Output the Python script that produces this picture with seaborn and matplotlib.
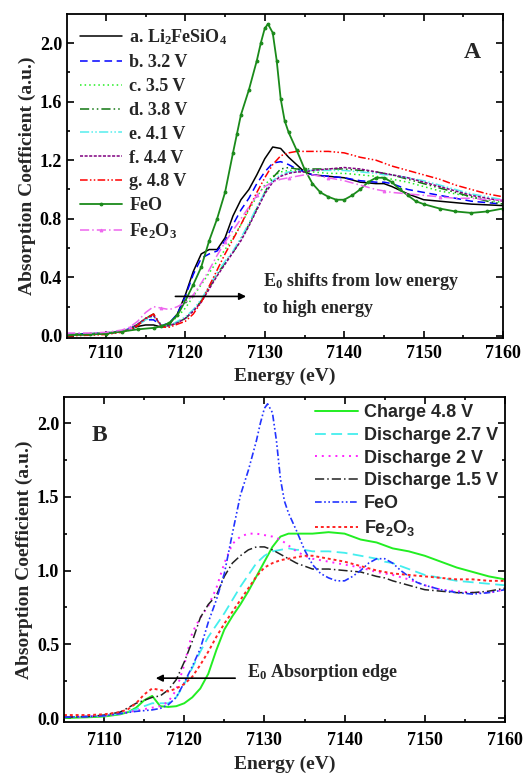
#!/usr/bin/env python3
# Fe K-edge XANES of Li2FeSiO4 at different states of charge (two panels)

import matplotlib
matplotlib.use("Agg")
import matplotlib.pyplot as plt
import seaborn as sns
from matplotlib.ticker import MultipleLocator, FormatStrFormatter

################
# Data

energy = [7105, 7108, 7110, 7112, 7113, 7114, 7115, 7116, 7117, 7118,
          7119, 7120, 7121, 7122, 7123, 7124, 7125, 7126, 7127, 7128,
          7129, 7130, 7131, 7132, 7133, 7134, 7135, 7136, 7138, 7140,
          7142, 7144, 7145, 7146, 7148, 7150, 7152, 7154, 7156, 7158, 7160]

li2fesio4 = [0.01, 0.015, 0.02, 0.03, 0.045, 0.065, 0.075, 0.075, 0.06, 0.08,
             0.15, 0.28, 0.44, 0.56, 0.59, 0.59, 0.67, 0.82, 0.93, 1.00,
             1.10, 1.21, 1.29, 1.28, 1.22, 1.17, 1.12, 1.10, 1.09, 1.08,
             1.05, 1.04, 1.04, 1.02, 0.97, 0.93, 0.92, 0.91, 0.90, 0.895, 0.89]
v32 = [0.01, 0.015, 0.02, 0.035, 0.05, 0.08, 0.11, 0.11, 0.07, 0.09,
       0.15, 0.27, 0.42, 0.53, 0.56, 0.58, 0.65, 0.76, 0.86, 0.94,
       1.04, 1.12, 1.18, 1.19, 1.17, 1.14, 1.12, 1.10, 1.09, 1.08,
       1.06, 1.05, 1.05, 1.04, 1.00, 0.98, 0.96, 0.94, 0.92, 0.91, 0.90]
v35 = [0.01, 0.015, 0.02, 0.035, 0.05, 0.08, 0.12, 0.14, 0.07, 0.09,
       0.13, 0.19, 0.27, 0.35, 0.43, 0.51, 0.59, 0.67, 0.76, 0.86,
       0.95, 1.03, 1.09, 1.12, 1.13, 1.13, 1.12, 1.12, 1.11, 1.11,
       1.10, 1.09, 1.08, 1.07, 1.05, 1.02, 0.99, 0.97, 0.95, 0.93, 0.91]
v38 = [0.005, 0.01, 0.015, 0.03, 0.045, 0.08, 0.12, 0.15, 0.07, 0.07,
       0.09, 0.12, 0.17, 0.24, 0.33, 0.42, 0.50, 0.57, 0.66, 0.76,
       0.87, 0.98, 1.08, 1.14, 1.15, 1.14, 1.14, 1.14, 1.14, 1.14,
       1.13, 1.12, 1.11, 1.10, 1.07, 1.04, 1.01, 0.98, 0.95, 0.92, 0.90]
v41 = [0.005, 0.01, 0.015, 0.03, 0.045, 0.07, 0.11, 0.13, 0.07, 0.07,
       0.10, 0.13, 0.18, 0.25, 0.34, 0.43, 0.51, 0.58, 0.67, 0.77,
       0.88, 0.98, 1.06, 1.10, 1.12, 1.12, 1.13, 1.13, 1.13, 1.13,
       1.12, 1.11, 1.10, 1.10, 1.08, 1.06, 1.03, 1.00, 0.97, 0.95, 0.93]
v44 = [0.005, 0.01, 0.015, 0.03, 0.045, 0.08, 0.12, 0.14, 0.07, 0.07,
       0.09, 0.12, 0.17, 0.23, 0.32, 0.41, 0.49, 0.57, 0.65, 0.75,
       0.86, 0.97, 1.05, 1.09, 1.11, 1.12, 1.12, 1.13, 1.14, 1.15,
       1.14, 1.12, 1.11, 1.10, 1.08, 1.05, 1.02, 0.99, 0.96, 0.94, 0.92]
v48 = [0.0, 0.005, 0.01, 0.025, 0.04, 0.07, 0.12, 0.15, 0.06, 0.06,
       0.08, 0.10, 0.15, 0.23, 0.34, 0.45, 0.56, 0.66, 0.76, 0.87,
       0.98, 1.08, 1.17, 1.23, 1.25, 1.26, 1.26, 1.26, 1.26, 1.25,
       1.22, 1.20, 1.18, 1.16, 1.13, 1.10, 1.07, 1.03, 1.00, 0.97, 0.95]
fe2o3 = [0.02, 0.02, 0.025, 0.04, 0.06, 0.10, 0.16, 0.20, 0.19, 0.18,
         0.20, 0.23, 0.28, 0.36, 0.45, 0.55, 0.64, 0.72, 0.80, 0.88,
         0.96, 1.02, 1.05, 1.07, 1.08, 1.09, 1.10, 1.10, 1.08, 1.06,
         1.03, 1.00, 0.99, 0.98, 0.97, 0.96, 0.95, 0.94, 0.94, 0.93, 0.93]

# FeO reference is sampled more densely around the white line
energy_feo = [7105, 7108, 7110, 7112, 7114, 7116, 7117, 7118, 7119, 7120,
              7121, 7122, 7123, 7124, 7125, 7126, 7126.5, 7127, 7128, 7129,
              7129.5, 7130, 7130.4, 7131, 7131.5, 7132, 7132.5, 7133, 7134, 7135,
              7136, 7137, 7138, 7139, 7140, 7141, 7142, 7143, 7144, 7145,
              7146, 7147, 7148, 7149, 7150, 7152, 7154, 7156, 7158, 7160]
feo = [0.005, 0.01, 0.015, 0.03, 0.045, 0.055, 0.065, 0.09, 0.14, 0.24,
       0.35, 0.47, 0.65, 0.80, 0.98, 1.25, 1.38, 1.51, 1.68, 1.88,
       2.00, 2.10, 2.13, 2.07, 1.88, 1.62, 1.47, 1.39, 1.27, 1.14,
       1.04, 0.98, 0.95, 0.93, 0.93, 0.96, 1.00, 1.05, 1.08, 1.08,
       1.05, 1.00, 0.96, 0.92, 0.90, 0.87, 0.85, 0.84, 0.85, 0.87]

# Panel B: cycled electrodes
charge_48 = [0.0, 0.005, 0.01, 0.025, 0.04, 0.07, 0.12, 0.15, 0.08, 0.075,
             0.08, 0.10, 0.14, 0.20, 0.30, 0.46, 0.60, 0.69, 0.77, 0.86,
             0.96, 1.06, 1.16, 1.23, 1.25, 1.25, 1.25, 1.25, 1.26, 1.25,
             1.21, 1.19, 1.17, 1.15, 1.13, 1.10, 1.06, 1.02, 0.99, 0.96, 0.94]
discharge_27 = [0.005, 0.01, 0.015, 0.03, 0.04, 0.06, 0.08, 0.10, 0.10, 0.10,
                0.14, 0.23, 0.34, 0.45, 0.55, 0.63, 0.71, 0.80, 0.89, 0.97,
                1.05, 1.10, 1.13, 1.14, 1.15, 1.14, 1.14, 1.13, 1.13, 1.12,
                1.10, 1.08, 1.06, 1.05, 1.01, 0.97, 0.95, 0.93, 0.92, 0.91, 0.90]
discharge_2 = [0.005, 0.01, 0.015, 0.03, 0.04, 0.05, 0.06, 0.07, 0.08, 0.11,
               0.19, 0.36, 0.58, 0.68, 0.76, 0.88, 1.05, 1.18, 1.23, 1.25,
               1.25, 1.24, 1.23, 1.21, 1.17, 1.13, 1.10, 1.08, 1.06, 1.04,
               1.02, 0.99, 0.98, 0.97, 0.94, 0.90, 0.87, 0.86, 0.85, 0.85, 0.87]
discharge_15 = [0.005, 0.01, 0.02, 0.04, 0.07, 0.10, 0.12, 0.14, 0.15, 0.19,
                0.26, 0.38, 0.52, 0.68, 0.77, 0.83, 0.96, 1.05, 1.10, 1.14,
                1.16, 1.16, 1.14, 1.11, 1.08, 1.05, 1.03, 1.01, 1.01, 1.00,
                0.99, 0.96, 0.95, 0.93, 0.90, 0.87, 0.86, 0.85, 0.85, 0.86, 0.88]

xticks = [7110, 7120, 7130, 7140, 7150, 7160]

################
# Style

sns.set_theme(style="ticks")
plt.rcParams["font.family"] = ["Liberation Serif", "DejaVu Serif"]
plt.rcParams["font.weight"] = "bold"
plt.rcParams["axes.labelweight"] = "bold"
plt.rcParams["mathtext.default"] = "regular"
plt.rcParams["axes.linewidth"] = 1.3
plt.rcParams["axes.edgecolor"] = "black"

serif = {"family": "Liberation Serif", "weight": "bold"}
sans = {"family": "Liberation Sans", "weight": "bold"}


def styleAxes(ax, ylim, ymajor, yminor, xpad, labpad):
  ax.set_xlim(7105.1, 7160)
  ax.set_ylim(*ylim)
  ax.xaxis.set_major_locator(MultipleLocator(10))
  ax.xaxis.set_minor_locator(MultipleLocator(5))
  ax.yaxis.set_major_locator(MultipleLocator(ymajor))
  ax.yaxis.set_minor_locator(MultipleLocator(yminor))
  ax.yaxis.set_major_formatter(FormatStrFormatter("%.1f"))
  ax.set_xticks(xticks)
  ax.tick_params(which="both", direction="in", top=True, right=True,
                 colors="black", width=1.2)
  ax.tick_params(which="major", length=5, labelsize=13)
  ax.tick_params(which="minor", length=2.5)
  ax.tick_params(axis="x", which="major", pad=xpad)
  ax.set_xlabel("Energy (eV)", fontsize=14, fontdict=serif, labelpad=labpad)
  ax.set_ylabel("Absorption Coefficient (a.u.)", fontsize=14, fontdict=serif,
                labelpad=3)
  for lab in ax.get_xticklabels() + ax.get_yticklabels():
    lab.set_fontweight("bold")


fig = plt.figure(figsize=(5.23, 7.74), dpi=100)
axA = fig.add_axes([0.128, 0.5633, 0.834, 0.4186])
axB = fig.add_axes([0.1224, 0.0672, 0.843, 0.420])

lw = 1.1

################
# Panel A

seriesA = [
  (li2fesio4, "a. Li$_2$FeSiO$_4$", "black", "-"),
  (v32, "b. 3.2 V", "#0000ff", (0, (5, 3))),
  (v35, "c. 3.5 V", "#22ee22", (0, (1, 2))),
  (v38, "d. 3.8 V", "#117711", (0, (6, 2, 1, 2, 1, 2))),
  (v41, "e. 4.1 V", "#55eeee", (0, (6, 1.5, 1, 1.5, 1, 1.5))),
  (v44, "f. 4.4 V", "#800080", (0, (2, 1))),
  (v48, "g. 4.8 V", "#ff0000", (0, (5, 1.5, 1, 1.5, 1, 1.5))),
]
for vals, lab, col, ls in seriesA:
  sns.lineplot(x=energy, y=vals, ax=axA, color=col, linestyle=ls, lw=lw,
               label=lab, errorbar=None)

sns.lineplot(x=energy_feo, y=feo, ax=axA, color="#1a8a1a", lw=1.3,
             marker="o", markersize=2, markeredgecolor="#1a8a1a",
             label="FeO", errorbar=None)
sns.lineplot(x=energy, y=fe2o3, ax=axA, color="#ee66ee", lw=lw,
             linestyle=(0, (6, 2, 1, 2)), marker="^", markersize=2,
             markeredgecolor="#ee66ee", markevery=4,
             label="Fe$_2$O$_3$", errorbar=None)

styleAxes(axA, (-0.014, 2.198), 0.4, 0.2, 5, 4)
axA.legend(loc="upper left", bbox_to_anchor=(0.0, 1.0), frameon=False,
           prop={"family": "Liberation Serif", "weight": "bold", "size": 13},
           handlelength=2.3, handletextpad=0.4, labelspacing=0.38,
           borderaxespad=0.5, borderpad=0.25)
axA.text(0.93, 0.88, "A", transform=axA.transAxes, fontsize=17,
         fontdict=serif, ha="center", va="center")
axA.annotate("", xy=(7128.0, 0.27), xytext=(7118.4, 0.27),
             arrowprops=dict(arrowstyle="-|>", color="black", lw=1.2,
                             mutation_scale=10))
axA.text(7129.8, 0.37, "E$_0$ shifts from low energy", fontsize=13,
         fontdict=serif, ha="left", va="center")
axA.text(7129.8, 0.19, "to high energy", fontsize=13, fontdict=serif,
         ha="left", va="center")

################
# Panel B

seriesB = [
  (energy, charge_48, "Charge 4.8 V", "#22ee22", "-", 1.4),
  (energy, discharge_27, "Discharge 2.7 V", "#44eeee", (0, (6, 3)), 1.3),
  (energy, discharge_2, "Discharge 2 V", "#ff22ff", (0, (1, 2.5)), 1.4),
  (energy, discharge_15, "Discharge 1.5 V", "#222222", (0, (6, 2, 1, 2)), 1.1),
  (energy_feo, feo, "FeO", "#2233ff", (0, (4, 1.5, 1, 1.5, 1, 1.5)), 1.2),
  (energy, fe2o3, "Fe$_2$O$_3$", "#ff2222", (0, (1.5, 1.5)), 1.4),
]
for xs, vals, lab, col, ls, w in seriesB:
  sns.lineplot(x=xs, y=vals, ax=axB, color=col, linestyle=ls, lw=w,
               label=lab, errorbar=None)

styleAxes(axB, (-0.027, 2.177), 0.5, 0.25, 7, 5)
axB.set_xlim(7105.0, 7160)
axB.legend(loc="upper right", bbox_to_anchor=(1.0, 1.0), frameon=False,
           prop={"family": "Liberation Sans", "weight": "bold", "size": 13},
           handlelength=2.4, handletextpad=0.3, labelspacing=0.32,
           borderaxespad=0.2, borderpad=0.2)
axB.text(0.08, 0.88, "B", transform=axB.transAxes, fontsize=17,
         fontdict=serif, ha="center", va="center")
axB.annotate("", xy=(7116.1, 0.27), xytext=(7126.7, 0.27),
             arrowprops=dict(arrowstyle="-|>", color="black", lw=1.2,
                             mutation_scale=10))
axB.text(7127.8, 0.31, "E$_0$ Absorption edge", fontsize=13, fontdict=serif,
         ha="left", va="center")

fig.savefig("out.png", dpi=100)
